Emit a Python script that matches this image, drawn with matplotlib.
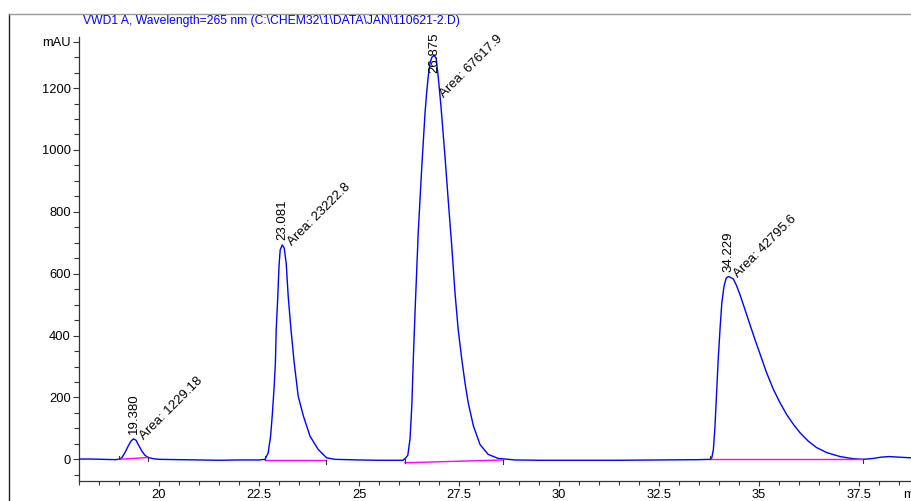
import numpy as np
import matplotlib
matplotlib.use("Agg")
import matplotlib.pyplot as plt
from matplotlib.lines import Line2D

plt.rcParams["font.family"] = ["Liberation Sans", "DejaVu Sans"]

# ---- chromatogram trace (min, mAU) ----
sig_t = [18.0, 18.3, 18.6, 18.9, 18.98, 19.07, 19.15, 19.23, 19.3, 19.36, 19.425,
         19.48, 19.57, 19.65, 19.73, 19.86, 20.0, 20.5, 21.0, 21.5, 22.0, 22.5,
         22.65, 22.73, 22.79, 22.83, 22.875, 22.91, 22.93, 22.97, 23.0, 23.03,
         23.08, 23.13, 23.18, 23.23, 23.3, 23.38, 23.48, 23.61, 23.775, 23.98,
         24.19, 24.4, 25.0, 25.5, 26.1, 26.15, 26.22, 26.275, 26.32, 26.36, 26.4,
         26.44, 26.48, 26.525, 26.57, 26.61, 26.65, 26.69, 26.73, 26.775, 26.82,
         26.875, 26.93, 26.98, 27.05, 27.15, 27.23, 27.32, 27.4, 27.48, 27.57,
         27.65, 27.73, 27.86, 28.025, 28.23, 28.48, 28.9, 29.5, 30.5, 31.5, 32.5,
         33.5, 33.78, 33.82, 33.86, 33.9, 33.94, 33.98, 34.03, 34.07, 34.125,
         34.18, 34.24, 34.36, 34.44, 34.525, 34.65, 34.775, 34.9, 35.03, 35.19,
         35.36, 35.525, 35.69, 35.86, 36.025, 36.23, 36.44, 36.69, 37.025, 37.36,
         37.61, 37.86, 38.05, 38.25, 38.5, 38.8]
sig_mau = [1, 1, 0, -1, 0, 5, 22, 43, 59, 66, 62,
           48, 27, 13, 6, 2, 0, -1, -2, -3, -2, -2,
           0, 21, 75, 140, 226, 312, 419, 527, 624, 677,
           693, 683, 634, 527, 419, 312, 204, 140, 75, 32,
           5, 0, -2, -3, -3, 2, 13, 65, 172, 333, 473,
           602, 731, 839, 946, 1032, 1118, 1183, 1237, 1280, 1299,
           1306, 1296, 1237, 1140, 978, 839, 688, 538, 419, 323,
           247, 183, 108, 48, 16, 3, -2, -3, -3, -3, -2,
           -1, 0, 5, 32, 108, 215, 323, 430, 505, 559,
           586, 591, 583, 561, 532, 484, 435, 387, 339, 280,
           226, 183, 145, 113, 86, 59, 38, 22, 9, 2,
           0, 3, 7, 9, 7, 5]

# ---- integration results ----
peak_rt = [19.380, 23.081, 26.875, 34.229]
peak_area = [1229.18, 23222.8, 67617.9, 42795.6]
base_start_t = [19.00, 22.65, 26.15, 33.78]
base_start_v = [0, -2, -11, 0]
base_end_t = [19.73, 24.17, 28.61, 37.61]
base_end_v = [6, -2, -2, 0]

title = r"VWD1 A, Wavelength=265 nm (C:\CHEM32\1\DATA\JAN\110621-2.D)"

W, H = 911, 501
fig = plt.figure(figsize=(W / 100, H / 100), dpi=100)
ax = fig.add_axes([79 / W, 20 / H, 1 - 79 / W, 444 / H])

ax.plot(sig_t, sig_mau, color="#0000ff", lw=1.0, zorder=3)
for x0, y0, x1, y1 in zip(base_start_t, base_start_v, base_end_t, base_end_v):
    ax.plot([x0, x1], [y0, y1], color="#ff00ff", lw=1.0, zorder=4)
    ax.plot([x0, x0], [y0, y0 + 12], color="#333333", lw=0.8, zorder=5)
    ax.plot([x1, x1], [y1, y1 - 12], color="#333333", lw=0.8, zorder=5)

YTOP = 1365
for rt, area in zip(peak_rt, peak_area):
    h = np.interp(rt, sig_t, sig_mau)
    # labels get pushed down when they would run past the top of the plot
    ax.text(rt, min(h + 16, 1248), f"{rt:.3f}", rotation=90, ha="center",
            va="bottom", fontsize=9.5, zorder=6)
    ax.text(rt + 0.30, min(h - 10, 1160), f"Area: {area:g}", rotation=45,
            rotation_mode="anchor", ha="left", va="bottom", fontsize=9.5, zorder=6)

ax.set_xlim(18.0, 38.8)
ax.set_ylim(-70, YTOP)
ax.set_xticks(np.arange(20, 38.8, 2.5))
ax.set_xticklabels(["20", "22.5", "25", "27.5", "30", "32.5", "35", "37.5"])
ax.set_xticks(np.arange(18.0, 38.8, 0.5), minor=True)
ax.set_yticks([0, 200, 400, 600, 800, 1000, 1200, 1350])
ax.set_yticklabels(["0", "200", "400", "600", "800", "1000", "1200", "mAU"])
ax.set_yticks(np.arange(-50, 1351, 50), minor=True)

for s in ("top", "right"):
    ax.spines[s].set_visible(False)
for s in ("left", "bottom"):
    ax.spines[s].set_color("#333333")
    ax.spines[s].set_linewidth(0.9)
ax.tick_params(axis="both", which="both", direction="out", color="#333333",
               labelsize=9.3, width=0.8)
ax.tick_params(axis="y", which="major", length=4.5, pad=1.5)
ax.tick_params(axis="y", which="minor", length=3.5)
ax.tick_params(axis="x", which="major", length=3.5, pad=2.5)
ax.tick_params(axis="x", which="minor", length=3)

ax.annotate("min", xy=(38.6, 0), xycoords=("data", "axes fraction"),
            xytext=(0, -6), textcoords="offset points", ha="left", va="top",
            fontsize=9.3, annotation_clip=False)

fig.text(83 / W, 1 - 21 / H, title, color="#0000ff", fontsize=8.7,
         ha="left", va="center")
fig.add_artist(Line2D([9 / W, 9 / W], [0, 1 - 14 / H], transform=fig.transFigure,
                      color="#222222", lw=1.0))
fig.add_artist(Line2D([9 / W, 1], [1 - 14 / H, 1 - 14 / H], transform=fig.transFigure,
                      color="#999999", lw=1.0))

fig.savefig("out.png", dpi=100)
